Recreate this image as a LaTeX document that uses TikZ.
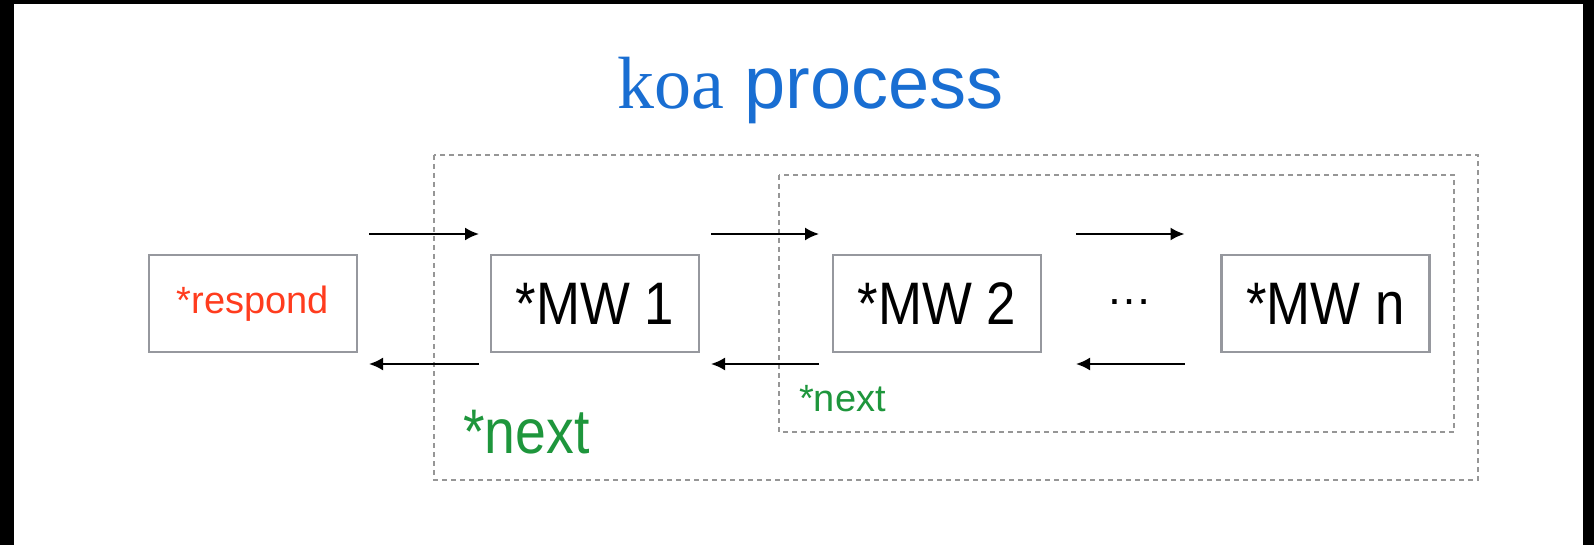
\documentclass[tikz,border=0pt]{standalone}
\usepackage{fontspec}
\setmainfont{Liberation Sans}
\newfontfamily\boxfont[FakeStretch=0.88]{Liberation Sans}
\newfontfamily\koaserif{Liberation Serif}
\usetikzlibrary{arrows.meta,calc}
\definecolor{koablue}{RGB}{25,110,210}
\definecolor{resred}{RGB}{255,60,30}
\definecolor{nextgreen}{RGB}{30,150,60}
\definecolor{boxgray}{RGB}{150,152,158}
\definecolor{dashgray}{RGB}{150,150,150}
\begin{document}
\begin{tikzpicture}[x=1pt,y=-1pt,
  mwbox/.style={draw=boxgray, line width=2.2pt, minimum width=208pt, minimum height=97pt, inner sep=0pt, outer sep=0pt, fill=white},
  flow/.style={line width=2pt, -{Latex[length=14pt,width=13pt]}},
  group/.style={draw=dashgray, line width=1.5pt, dash pattern=on 5pt off 4pt},
  bigtext/.style={font=\boxfont\fontsize{60}{72}\selectfont},
  smalltext/.style={font=\fontsize{38}{46}\selectfont},
]
\fill[white] (0,0) rectangle (1594,545);
\fill[black] (0,0) rectangle (1594,4);
\fill[black] (0,0) rectangle (14,545);
\fill[black] (1583,0) rectangle (1594,545);
\useasboundingbox (0,0) rectangle (1594,545);

% groups
\draw[group] (434,155) rectangle (1478,480);
\draw[group] (779,175) rectangle (1454,432);

% title
\node[anchor=base west, inner sep=0pt, text=koablue, font=\fontsize{74}{88}\selectfont] (title) at (617,109) {{\koaserif koa} process};

% boxes
\node[mwbox, smalltext, text=resred] (resp) at (253,303.5) {*respond};
\node[mwbox, bigtext] (mw1) at (595,303.5) {*MW 1};
\node[mwbox, bigtext] (mw2) at (937,303.5) {*MW 2};
\node[mwbox, bigtext] (mwn) at (1325.5,303.5) {*MW n};
\node[font=\fontsize{46}{56}\selectfont, anchor=base, inner sep=0pt] (dots) at (1129,304) {…};

% arrows
\draw[flow] ($(resp.north east)+(12,-21)$) -- ($(mw1.north west)+(-12,-21)$);
\draw[flow] ($(mw1.south west)+(-12,12)$) -- ($(resp.south east)+(12,12)$);
\draw[flow] ($(mw1.north east)+(12,-21)$) -- ($(mw2.north west)+(-14,-21)$);
\draw[flow] ($(mw2.south west)+(-14,12)$) -- ($(mw1.south east)+(12,12)$);
\draw[flow] ($(mw2.north east)+(35,-21)$) -- ($(mwn.north west)+(-37,-21)$);
\draw[flow] ($(mwn.south west)+(-37,12)$) -- ($(mw2.south east)+(35,12)$);

% labels
\node[font=\boxfont\fontsize{63}{72}\selectfont, text=nextgreen, anchor=base west, inner sep=0pt] (next1) at (463,453) {*next};
\node[smalltext, text=nextgreen, anchor=base west, inner sep=0pt] (next2) at (799,411) {*next};
\end{tikzpicture}
\end{document}
